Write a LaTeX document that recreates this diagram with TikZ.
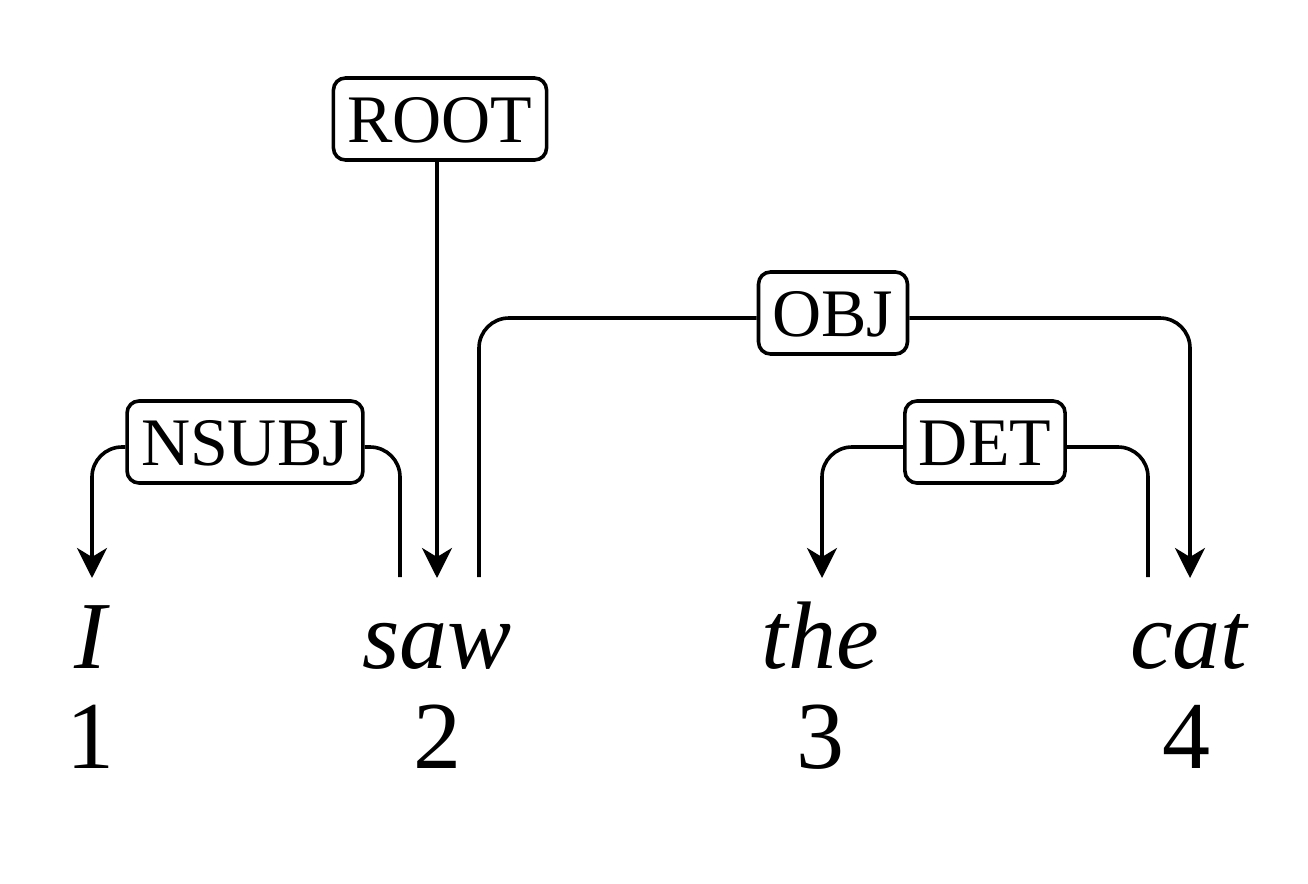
\documentclass[tikz,border=0pt]{standalone}
\usepackage{fontspec}
\setmainfont{Liberation Serif}
\usetikzlibrary{arrows.meta}
\begin{document}
\begin{tikzpicture}[x=0.5pt,y=-0.5pt,
  lbl/.style={draw,line width=1.8pt,rounded corners=6pt,fill=white,font=\fontsize{34}{40}\selectfont,
    inner xsep=7pt,inner ysep=0pt,minimum height=41pt,text height=23pt,text depth=0pt},
  word/.style={font=\fontsize{48}{56}\selectfont\itshape,anchor=base,inner sep=0pt},
  num/.style={font=\fontsize{48}{56}\selectfont,anchor=base,inner sep=0pt},
  conn/.style={line width=1.8pt,rounded corners=15pt},
  arr/.style={conn,-{Stealth[length=15pt,width=15pt,inset=4.5pt]}}]
\useasboundingbox (0,0) rectangle (1308,884);
% words and indices
\node[word] (w1) at (90,668) {I};
\node[word] (w2) at (437,668) {saw};
\node[word] (w3) at (820,668) {the};
\node[word] (w4) at (1189,668) {cat};
\node[num] (n1) at (90,768) {1};
\node[num] (n2) at (437,768) {2};
\node[num] (n3) at (820,768) {3};
\node[num] (n4) at (1186,768) {4};
% arc endpoints
\coordinate (t1) at (92,578);
\coordinate (s2a) at (400,577);
\coordinate (t2) at (437,578);
\coordinate (s2b) at (479,577);
\coordinate (t3) at (822,578);
\coordinate (s4) at (1148,577);
\coordinate (t4) at (1190,578);
% labels
\node[lbl] (root) at (440,119) {ROOT};
\node[lbl] (nsubj) at (245,442) {NSUBJ};
\node[lbl] (obj) at (833,313) {OBJ};
\node[lbl] (det) at (985,442) {DET};
% connectors
\draw[arr] (root.south -| t2) -- (t2);
\draw[arr] ([yshift=-2.5pt]nsubj.west) -| (t1);
\draw[conn] ([yshift=-2.5pt]nsubj.east) -| (s2a);
\draw[conn] ([yshift=-2.5pt]obj.west) -| (s2b);
\draw[arr] ([yshift=-2.5pt]obj.east) -| (t4);
\draw[arr] ([yshift=-2.5pt]det.west) -| (t3);
\draw[conn] ([yshift=-2.5pt]det.east) -| (s4);
\end{tikzpicture}
\end{document}
